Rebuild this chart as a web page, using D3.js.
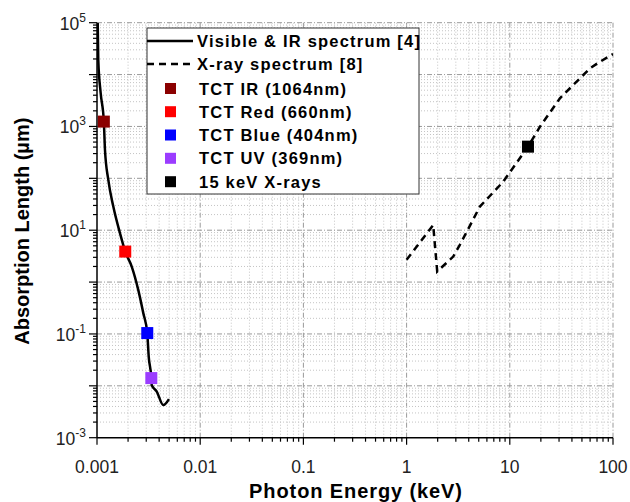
<!DOCTYPE html>
<html>
<head>
<meta charset="utf-8">
<script src="https://cdn.jsdelivr.net/npm/d3@7"></script>
<style>
  body { margin: 0; background: white; }
  text { font-family: "Liberation Sans", Arial, sans-serif; }
</style>
</head>
<body>
<script>
// photon energy in keV, absorption length in um
const visEnergy = [0.001016, 0.001029, 0.001086, 0.001165, 0.001195, 0.001287, 0.001439, 0.00167, 0.001878, 0.00217, 0.00251, 0.00281, 0.003069, 0.00317, 0.00336, 0.00339, 0.00379, 0.00439, 0.00498];
const visLength = [1e5, 19100, 4365, 1240, 352, 93, 28.5, 8.75, 3.87, 1.99, 0.708, 0.252, 0.104, 0.0367, 0.0141, 0.0104, 0.00776, 0.00425, 0.00555];

const xrayEnergy = [1, 1.81, 1.98, 2.83, 3.28, 5.13, 8.63, 15, 19.6, 30.6, 47.9, 59.9, 74.8, 100];
const xrayLength = [2.68, 12.6, 1.6, 3.1, 5.2, 28.5, 86, 408, 990, 3490, 8490, 13200, 17700, 24900];

const markerNames = ["TCT IR (1064nm)", "TCT Red (660nm)", "TCT Blue (404nm)", "TCT UV (369nm)", "15 keV X-rays"];
const markerEnergy = [0.001165, 0.001878, 0.003069, 0.00336, 15];
const markerLength = [1240, 3.87, 0.104, 0.0141, 408];
const markerColors = ["#8b0000", "#ff0000", "#0000ff", "#9b3cff", "#000000"];

const lineNames = ["Visible & IR spectrum [4]", "X-ray spectrum [8]"];

const xTicks = [0.001, 0.01, 0.1, 1, 10, 100];
const xTickLabels = ["0.001", "0.01", "0.1", "1", "10", "100"];
const yLabelExp = [5, 3, 1, -1, -3];

const width = 630, height = 502;
const pLeft = 97, pRight = 613, pTop = 22.7, pBottom = 437.7;

const svg = d3.select("body").append("svg")
    .attr("width", width)
    .attr("height", height);

const x = d3.scaleLog().domain([0.001, 100]).range([pLeft, pRight]);
const y = d3.scaleLog().domain([1e-3, 1e5]).range([pBottom, pTop]);

// minor + major values
function logValues(lo, hi) {
    let out = [];
    for (let e = lo; e < hi; e++) {
        for (let m = 1; m < 10; m++) out.push({v: m * Math.pow(10, e), major: m === 1});
    }
    out.push({v: Math.pow(10, hi), major: true});
    return out;
}
const xVals = logValues(-3, 2);
const yVals = logValues(-3, 5);

// grid
const grid = svg.append("g");
grid.selectAll(".gx").data(xVals.filter(d => d.v > 0.001)).join("line")
    .attr("x1", d => x(d.v)).attr("x2", d => x(d.v))
    .attr("y1", pTop).attr("y2", pBottom)
    .attr("stroke", d => d.major ? "#9a9a9a" : "#c4c4c4")
    .attr("stroke-width", 1)
    .attr("stroke-dasharray", d => d.major ? "5,2,1,2" : "1,2");
grid.selectAll(".gy").data(yVals.filter(d => d.v > 0.001)).join("line")
    .attr("x1", pLeft).attr("x2", pRight)
    .attr("y1", d => y(d.v)).attr("y2", d => y(d.v))
    .attr("stroke", d => d.major ? "#9a9a9a" : "#c4c4c4")
    .attr("stroke-width", 1)
    .attr("stroke-dasharray", d => d.major ? "5,2,1,2" : "1,2");

// axes
const axis = svg.append("g");
axis.append("line").attr("x1", pLeft).attr("x2", pRight).attr("y1", pBottom).attr("y2", pBottom)
    .attr("stroke", "#000").attr("stroke-width", 1.5);
axis.append("line").attr("x1", pLeft).attr("x2", pLeft).attr("y1", pTop).attr("y2", pBottom)
    .attr("stroke", "#000").attr("stroke-width", 1.5);

axis.selectAll(".tx").data(xVals).join("line")
    .attr("x1", d => x(d.v)).attr("x2", d => x(d.v))
    .attr("y1", pBottom).attr("y2", d => pBottom + (d.major ? 7 : 4))
    .attr("stroke", "#000").attr("stroke-width", 1.2);
axis.selectAll(".ty").data(yVals).join("line")
    .attr("x1", d => pLeft - (d.major ? 8 : 4)).attr("x2", pLeft)
    .attr("y1", d => y(d.v)).attr("y2", d => y(d.v))
    .attr("stroke", "#000").attr("stroke-width", 1.2);

axis.selectAll(".lx").data(xTicks).join("text")
    .attr("x", d => x(d)).attr("y", pBottom + 35)
    .attr("text-anchor", "middle")
    .attr("font-size", 17.5)
    .attr("fill", "#222")
    .text((d, i) => xTickLabels[i]);

const yl = axis.selectAll(".ly").data(yLabelExp).join("text")
    .attr("x", pLeft - 11).attr("y", d => y(Math.pow(10, d)) + 7)
    .attr("text-anchor", "end")
    .attr("font-size", 17.5)
    .attr("fill", "#222");
yl.append("tspan").text("10");
yl.append("tspan").attr("dy", -8).attr("font-size", 12).text(d => d);

svg.append("text")
    .attr("x", 356).attr("y", 498)
    .attr("text-anchor", "middle")
    .attr("font-size", 20).attr("font-weight", "bold")
    .attr("letter-spacing", 0.9)
    .text("Photon Energy (keV)");
svg.append("text")
    .attr("transform", `translate(29, ${(pTop + pBottom) / 2 + 1}) rotate(-90)`)
    .attr("text-anchor", "middle")
    .attr("font-size", 20).attr("font-weight", "bold")
    .text("Absorption Length (\u00b5m)");

// curves
svg.append("clipPath").attr("id", "plotclip").append("rect")
    .attr("x", pLeft).attr("y", pTop).attr("width", pRight - pLeft).attr("height", pBottom - pTop);

const plot = svg.append("g").attr("clip-path", "url(#plotclip)");

const visLine = d3.line()
    .x(d => x(d[0])).y(d => y(d[1]))
    .curve(d3.curveMonotoneX);
const xrayLine = d3.line()
    .x(d => x(d[0])).y(d => y(d[1]));

plot.append("path")
    .attr("d", visLine(d3.zip(visEnergy, visLength)))
    .attr("fill", "none").attr("stroke", "#000").attr("stroke-width", 2.5);
plot.append("path")
    .attr("d", xrayLine(d3.zip(xrayEnergy, xrayLength)))
    .attr("fill", "none").attr("stroke", "#000").attr("stroke-width", 2.5)
    .attr("stroke-dasharray", "7,5");

const ms = 12;
svg.selectAll(".mk").data(markerEnergy).join("rect")
    .attr("x", (d, i) => x(d) - ms / 2)
    .attr("y", (d, i) => y(markerLength[i]) - ms / 2)
    .attr("width", ms).attr("height", ms)
    .attr("fill", (d, i) => markerColors[i]);

// legend
const lg = svg.append("g");
lg.append("rect").attr("x", 147).attr("y", 28).attr("width", 272).attr("height", 166)
    .attr("fill", "white").attr("stroke", "#333").attr("stroke-width", 1);
const rowY = [41, 64, 88.5, 111.7, 135, 158.3, 181.7];
lineNames.forEach((name, i) => {
    lg.append("line").attr("x1", 147).attr("x2", 193).attr("y1", rowY[i]).attr("y2", rowY[i])
        .attr("stroke", "#000").attr("stroke-width", 2.5)
        .attr("stroke-dasharray", i === 1 ? "7,5" : null);
    lg.append("text").attr("x", 197).attr("y", rowY[i] + 6)
        .attr("font-size", 16.5).attr("font-weight", "bold")
        .attr("letter-spacing", 1.2)
        .text(name);
});
markerNames.forEach((name, i) => {
    const ry = rowY[i + 2];
    lg.append("rect").attr("x", 165).attr("y", ry - 5.5).attr("width", 11).attr("height", 11)
        .attr("fill", markerColors[i]);
    lg.append("text").attr("x", 199).attr("y", ry + 6)
        .attr("font-size", 16.5).attr("font-weight", "bold")
        .attr("letter-spacing", 1.2)
        .text(name);
});
</script>
</body>
</html>
